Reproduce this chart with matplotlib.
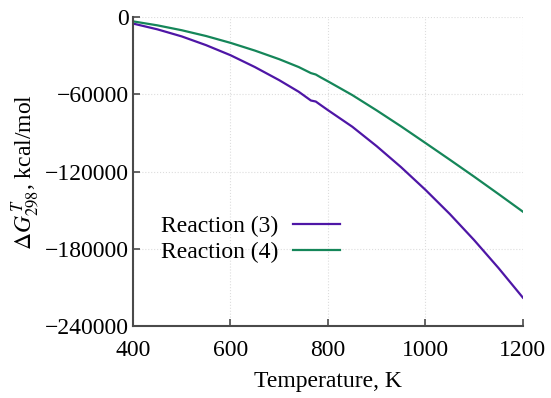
import matplotlib
matplotlib.use("Agg")
import matplotlib.pyplot as plt
import numpy as np

plt.rcParams['font.family'] = ['Liberation Serif', 'DejaVu Serif']
plt.rcParams['mathtext.fontset'] = 'stix'

temperature = [400, 450, 500, 550, 600, 650, 700, 740, 765, 775, 785, 800,
               850, 900, 950, 1000, 1050, 1100, 1150, 1200]
reaction3 = [-5000, -9500, -15000, -21800, -29600, -38800, -49000, -58000, -64800, -65600, -68300, -72300,
             -85200, -100300, -116600, -134200, -153000, -173300, -195000, -218000]
reaction4 = [-3300, -6400, -10200, -14700, -20000, -26000, -32700, -38800, -43500, -44600, -46800, -49900,
             -60600, -72500, -84900, -97800, -110800, -124000, -137500, -151200]

labels = ["Reaction (3)", "Reaction (4)"]
colors = ["#4e16a6", "#158659"]

fig = plt.figure(figsize=(5.51, 3.98), dpi=100)
ax = fig.add_axes([0.2414, 0.181, 0.7076, 0.776])

ax.plot(temperature, reaction3, color=colors[0], lw=1.6, label=labels[0])
ax.plot(temperature, reaction4, color=colors[1], lw=1.6, label=labels[1])

ax.set_xlim(400, 1200)
ax.set_ylim(-240000, 0)
ax.set_xticks([400, 600, 800, 1000, 1200])
ax.set_yticks([0, -60000, -120000, -180000, -240000])
ax.set_yticklabels(["0", "\u221260000", "\u2212120000", "\u2212180000", "\u2212240000"])

for s in ["top", "right"]:
    ax.spines[s].set_visible(False)
for s in ["left", "bottom"]:
    ax.spines[s].set_color("#4a4a4a")
    ax.spines[s].set_linewidth(1.5)

ax.tick_params(direction="in", length=5, width=1.2, color="#4a4a4a", labelsize=17)
ax.tick_params(axis="x", pad=10)
ax.tick_params(axis="y", pad=3)
ax.grid(True, color="#dddddd", linestyle=":", linewidth=0.8)

ax.set_xlabel("Temperature, K", fontsize=17, labelpad=7)
ax.set_ylabel(r"$\Delta G_{298}^{\,T}$, kcal/mol", fontsize=17, labelpad=3)

ax.legend(loc="upper left", bbox_to_anchor=(0.03, 0.412), frameon=False, fontsize=17,
          markerfirst=False, handlelength=2.0, handletextpad=0.6, labelspacing=0.2,
          borderpad=0.2)

fig.savefig("out.png", dpi=100)
